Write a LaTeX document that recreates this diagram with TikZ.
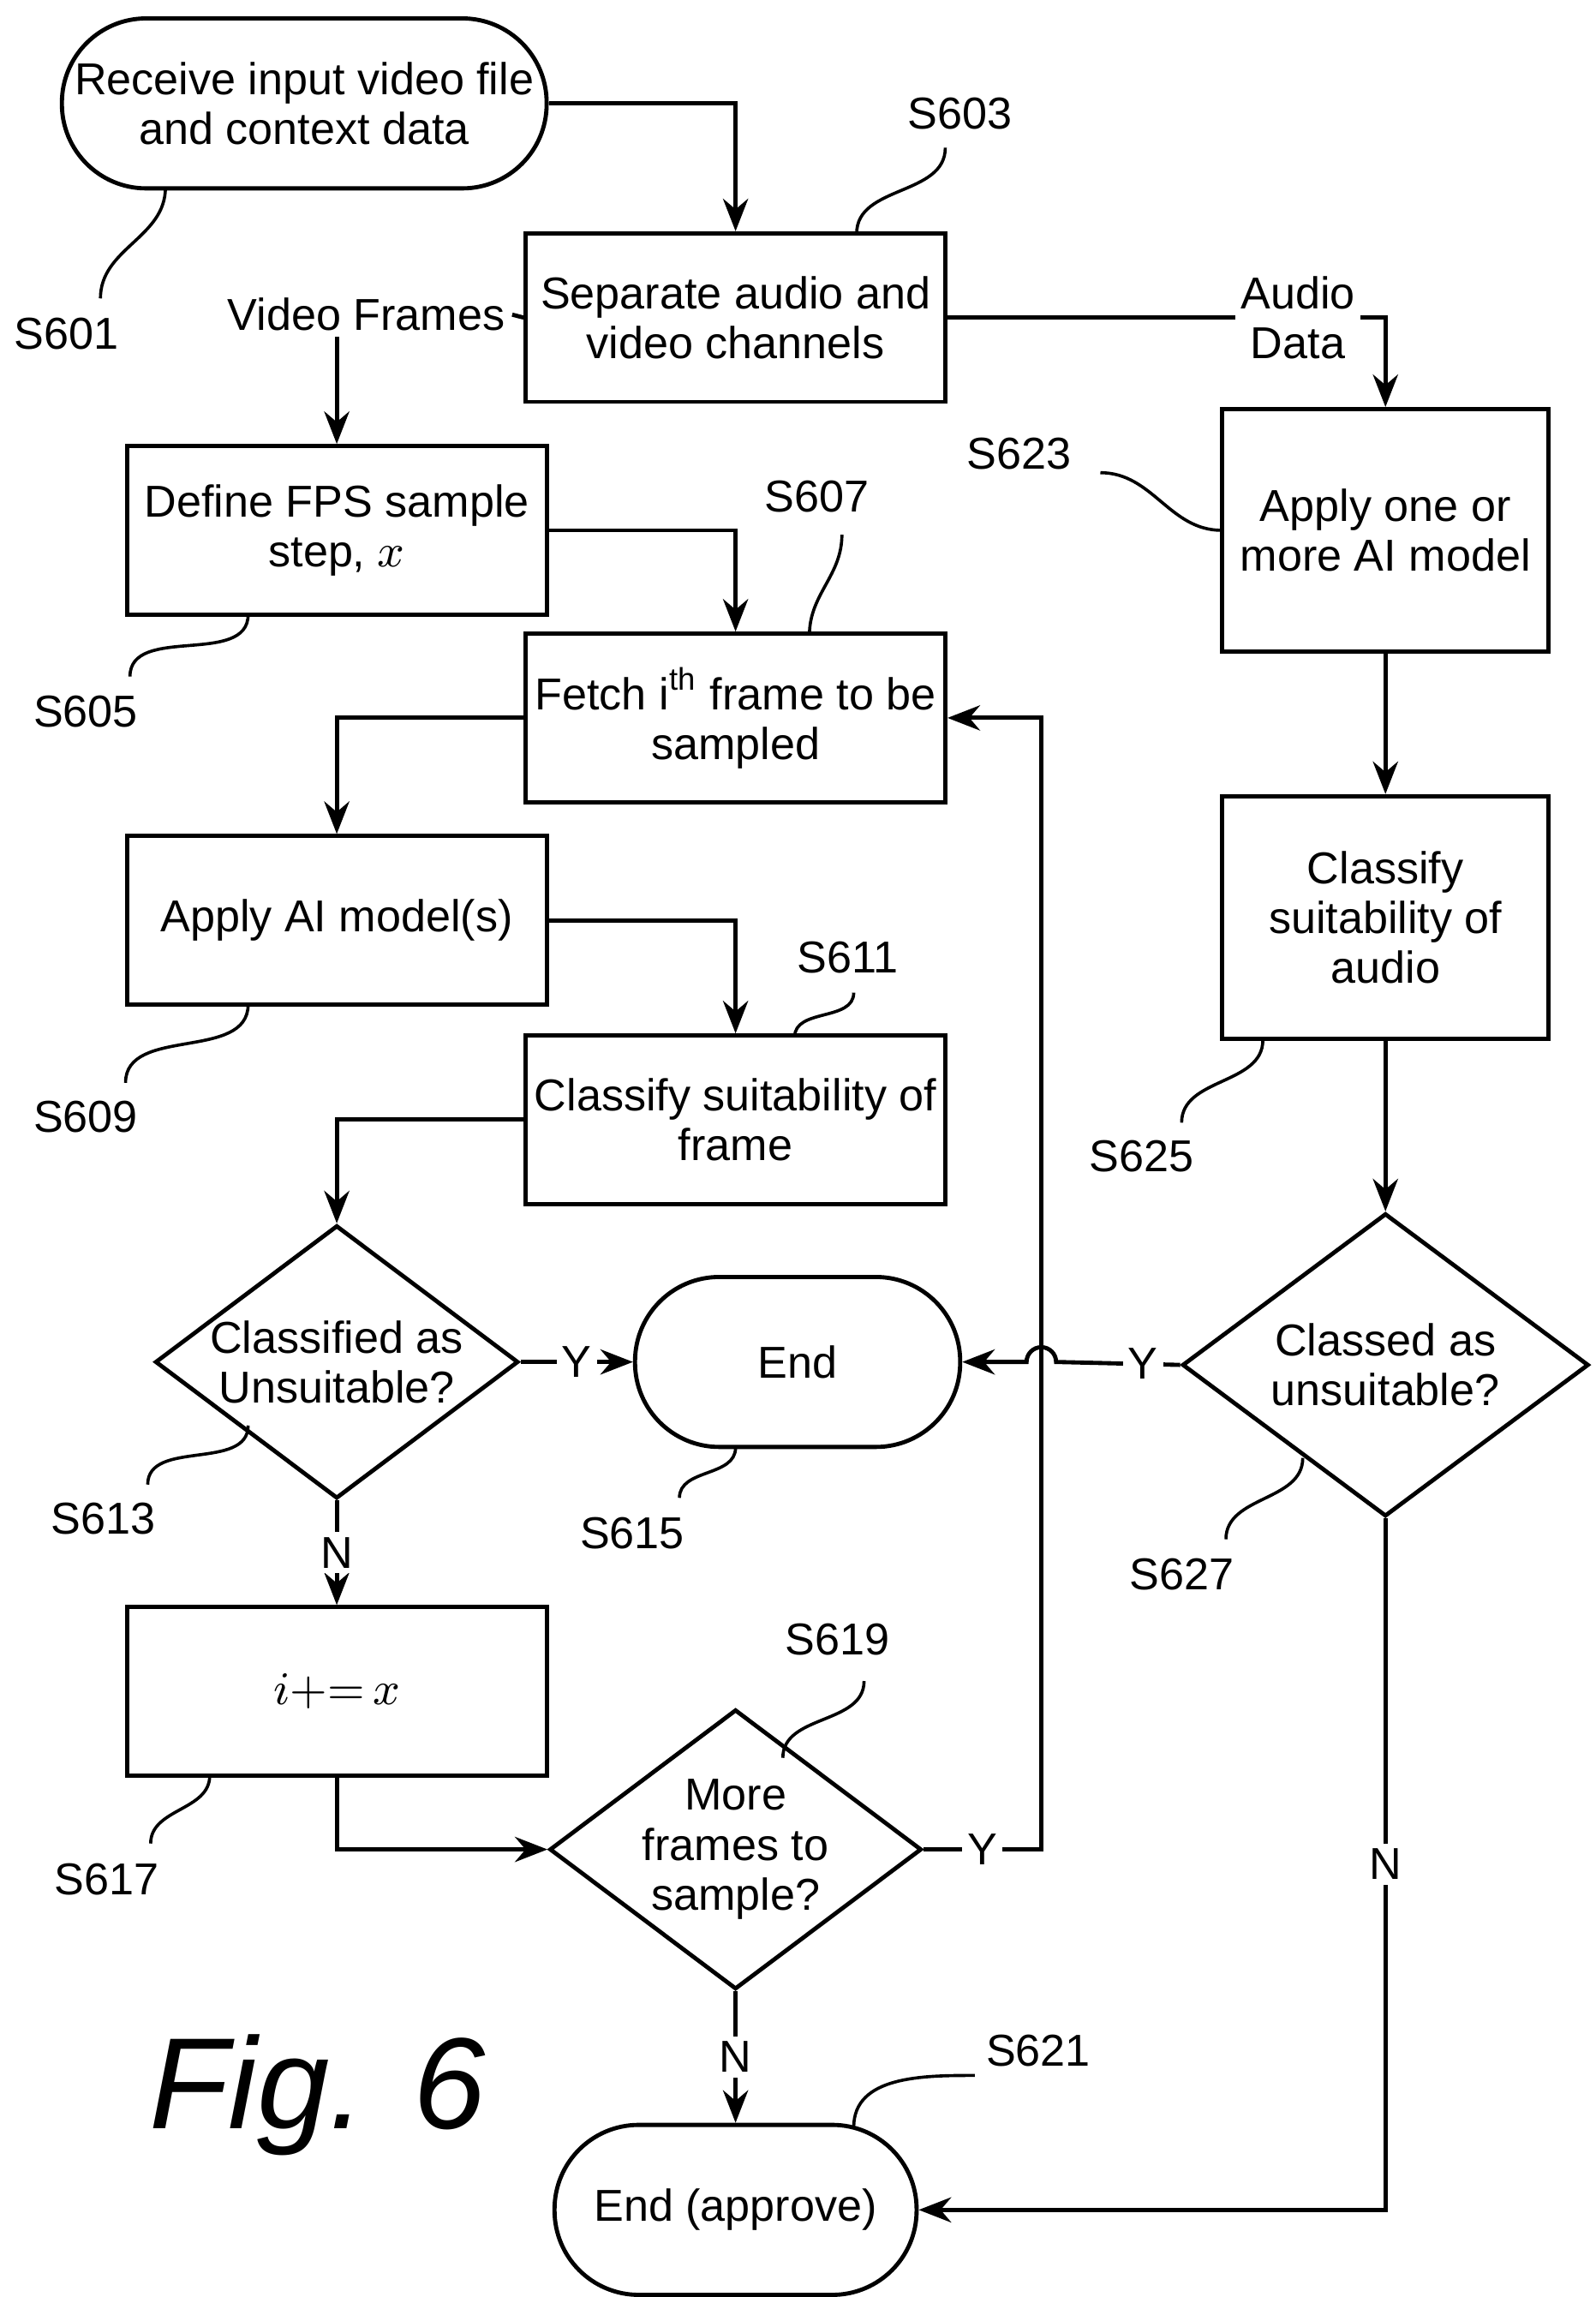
\documentclass[tikz,border=0pt]{standalone}
\usepackage{fontspec}
\setmainfont{Liberation Sans}
\usetikzlibrary{shapes.geometric, arrows.meta, calc}
\tikzset{
x=0.01cm, y=0.01cm,
every picture/.style={line width=0.8pt},
>={Stealth[length=2.2mm,width=1.7mm]},
txt/.style={font=\fontsize{8.6}{9.6}\selectfont, align=center},
box/.style={draw, txt, minimum width=2.84cm, minimum height=1.14cm, inner sep=1pt},
tall/.style={box, minimum width=2.21cm, minimum height=1.64cm},
term/.style={draw, txt, rounded corners=0.57cm, minimum height=1.15cm, inner sep=1pt},
dec/.style={draw, diamond, txt, aspect=1.33, inner sep=0pt},
lab/.style={txt, fill=white, inner sep=1pt},
tag/.style={txt},
lead/.style={line width=0.6pt},
}
\begin{document}
\begin{tikzpicture}
\useasboundingbox (0,0) rectangle (1080,-1555);
% boxes
\node[term, minimum width=3.28cm] (b601) at (206,-70) {Receive input video file\\and context data};
\node[box] (b603) at (498,-215) {Separate audio and\\video channels};
\node[box] (b605) at (228,-359) {Define FPS sample\\step, $x$};
\node[box] (b607) at (498,-486) {Fetch i\textsuperscript{th} frame to be\\sampled};
\node[box] (b609) at (228,-623) {Apply AI model(s)};
\node[box] (b611) at (498,-758) {Classify suitability of\\frame};
\node[dec, minimum width=2.2cm, minimum height=1.65cm] (d613) at (228,-922) {Classified as\\Unsuitable?};
\node[term, minimum width=2.2cm] (e615) at (540,-922) {End};
\node[box] (b617) at (228,-1145) {$i{+}{=}\,x$};
\node[dec, minimum width=2.2cm, minimum height=1.65cm] (d619) at (498,-1252) {More\\frames to\\sample?};
\node[term, minimum width=2.45cm] (e621) at (498,-1496) {End (approve)};
\node[tall] (b623) at (938,-359) {Apply one or\\more AI model};
\node[tall] (b625) at (938,-621) {Classify\\suitability of\\audio};
\node[dec, minimum width=2.75cm, minimum height=2.05cm] (d627) at (938,-924) {Classed as\\unsuitable?};
\node[font=\fontsize{25}{28}\selectfont\itshape] (fig) at (215,-1418) {Fig. 6};
% connectors
\draw[->] (b601.east) -| (b603.north);
\node[lab] (vf) at (248,-213) {Video Frames};
\draw (b603.west) -- (vf.east);
\draw[->] (228,-228) -- (b605.north);
\draw[->] (b605.east) -| (b607.north);
\draw[->] (b607.west) -| (b609.north);
\draw[->] (b609.east) -| (b611.north);
\draw[->] (b611.west) -| (d613.north);
\draw[->] (d613.east) -- node[lab] {Y} (e615.west);
\draw[->] (d613.south) -- node[lab] {N} (b617.north);
\draw[->] (b617.south) |- (d619.west);
\draw[->] (d619.east) -- node[lab, pos=0.5] {Y} (705,-1252) |- (b607.east);
\draw[->] (d619.south) -- node[lab] {N} (e621.north);
\draw[->] (b603.east) -| node[lab, pos=0.4] {Audio\\Data} (b623.north);
\draw[->] (b623.south) -- (b625.north);
\draw[->] (b625.south) -- (d627.north);
\draw[->] (d627.west) -- node[lab, pos=0.3] {Y} (715,-922) arc (0:180:10) -- (e615.east);
\draw[->] (d627.south) |- node[lab, pos=0.25] {N} (e621.east);
% step tags
\node[tag] (l601) at (45,-226) {S601};
\node[tag] (l603) at (650,-77) {S603};
\node[tag] (l605) at (58,-482) {S605};
\node[tag] (l607) at (553,-336) {S607};
\node[tag] (l609) at (58,-756) {S609};
\node[tag] (l611) at (574,-648) {S611};
\node[tag] (l613) at (70,-1028) {S613};
\node[tag] (l615) at (428,-1038) {S615};
\node[tag] (l617) at (72,-1272) {S617};
\node[tag] (l619) at (567,-1110) {S619};
\node[tag] (l621) at (703,-1388) {S621};
\node[tag] (l623) at (690,-307) {S623};
\node[tag] (l625) at (773,-783) {S625};
\node[tag] (l627) at (800,-1066) {S627};
\draw[lead] (68,-202) to[out=90,in=-90] (112,-127);
\draw[lead] (580,-158) to[out=90,in=-90] (640,-100);
\draw[lead] (88,-458) to[out=90,in=-90] (168,-416);
\draw[lead] (548,-430) to[out=90,in=-90] (570,-362);
\draw[lead] (85,-733) to[out=90,in=-90] (168,-680);
\draw[lead] (538,-702) to[out=90,in=-90] (578,-672);
\draw[lead] (100,-1005) to[out=90,in=-90] (168,-965);
\draw[lead] (460,-1014) to[out=90,in=-90] (498,-980);
\draw[lead] (102,-1248) to[out=90,in=-90] (142,-1202);
\draw[lead] (530,-1190) to[out=90,in=-90] (585,-1138);
\draw[lead] (578,-1440) to[out=90,in=180] (660,-1405);
\draw[lead] (745,-320) to[out=0,in=180] (827,-359);
\draw[lead] (800,-760) to[out=90,in=-90] (855,-704);
\draw[lead] (830,-1042) to[out=90,in=-90] (882,-987);
\end{tikzpicture}
\end{document}
